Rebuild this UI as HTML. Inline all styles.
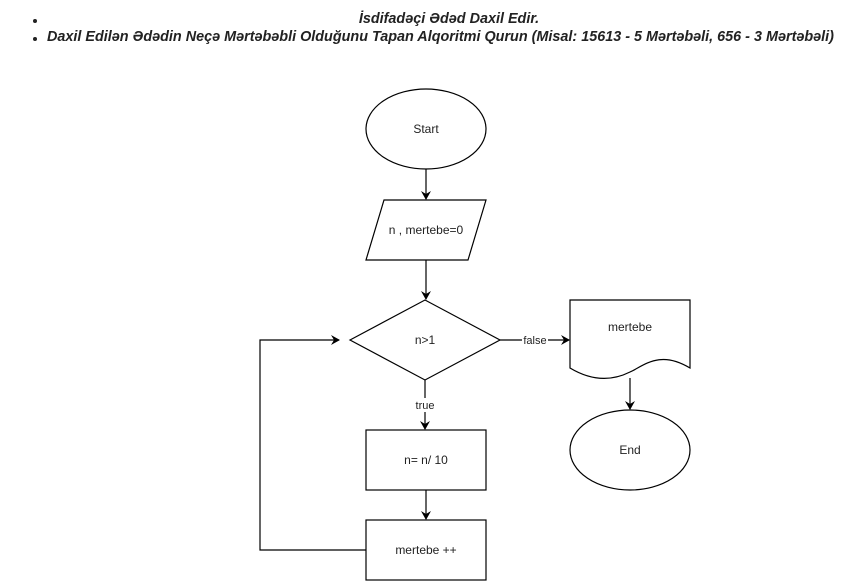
<!DOCTYPE html>
<html><head><meta charset="utf-8"><style>
body{margin:0;background:#fff;width:842px;height:582px;overflow:hidden;position:relative;font-family:"Liberation Sans",Arial,sans-serif}
.t{position:absolute;font-size:14.4px;font-weight:bold;font-style:italic;color:#222;white-space:nowrap}
.b{position:absolute;width:4px;height:4px;border-radius:50%;background:#222}
</style></head><body>
<div class="b" style="left:33px;top:19px"></div>
<div class="t" style="left:0;width:898px;text-align:center;top:11px">İsdifadəçi Ədəd Daxil Edir.</div>
<div class="b" style="left:33px;top:37px"></div>
<div class="t" style="left:47px;top:29px">Daxil Edilən Ədədin Neçə Mərtəbəbli Olduğunu Tapan Alqoritmi Qurun (Misal: 15613 - 5 Mərtəbəli, 656 - 3 Mərtəbəli)</div>
<svg width="842" height="582" style="position:absolute;left:0;top:0" font-family="Liberation Sans, Arial, sans-serif" font-size="12">
<defs><marker id="a" markerWidth="10" markerHeight="10" refX="8" refY="5" orient="auto" markerUnits="userSpaceOnUse"><path d="M0,0 L9,5 L0,10 L3,5 Z" fill="#000"/></marker></defs>
<g fill="#fff" stroke="#000" stroke-width="1.2">
<ellipse cx="426" cy="129" rx="60" ry="40"/>
<polygon points="384,200 486,200 468,260 366,260"/>
<polygon points="350,340 425,300 500,340 425,380"/>
<path d="M570,300 H690 V368 C660,350 645,365 630,372 C610,382 590,380 570,368 Z"/>
<ellipse cx="630" cy="450" rx="60" ry="40"/>
<rect x="366" y="430" width="120" height="60"/>
<rect x="366" y="520" width="120" height="60"/>
</g>
<g stroke="#000" fill="none" stroke-width="1.2">
<line x1="426" y1="169" x2="426" y2="199" marker-end="url(#a)"/>
<line x1="426" y1="260" x2="426" y2="299" marker-end="url(#a)"/>
<line x1="425" y1="380" x2="425" y2="429" marker-end="url(#a)"/>
<line x1="426" y1="490" x2="426" y2="519" marker-end="url(#a)"/>
<line x1="500" y1="340" x2="569" y2="340" marker-end="url(#a)"/>
<line x1="630" y1="378" x2="630" y2="409" marker-end="url(#a)"/>
<polyline points="366,550 260,550 260,340 339,340" marker-end="url(#a)"/>
</g>
<rect x="522" y="333" width="26" height="14" fill="#fff"/>
<rect x="413" y="398" width="24" height="14" fill="#fff"/>
<g fill="#222" text-anchor="middle">
<text x="426" y="133">Start</text>
<text x="426" y="234">n , mertebe=0</text>
<text x="425" y="344">n&gt;1</text>
<text x="630" y="331">mertebe</text>
<text x="630" y="454">End</text>
<text x="426" y="464">n= n/ 10</text>
<text x="426" y="554">mertebe ++</text>
<text x="535" y="344" font-size="11">false</text>
<text x="425" y="409" font-size="11">true</text>
</g>
</svg>
</body></html>
